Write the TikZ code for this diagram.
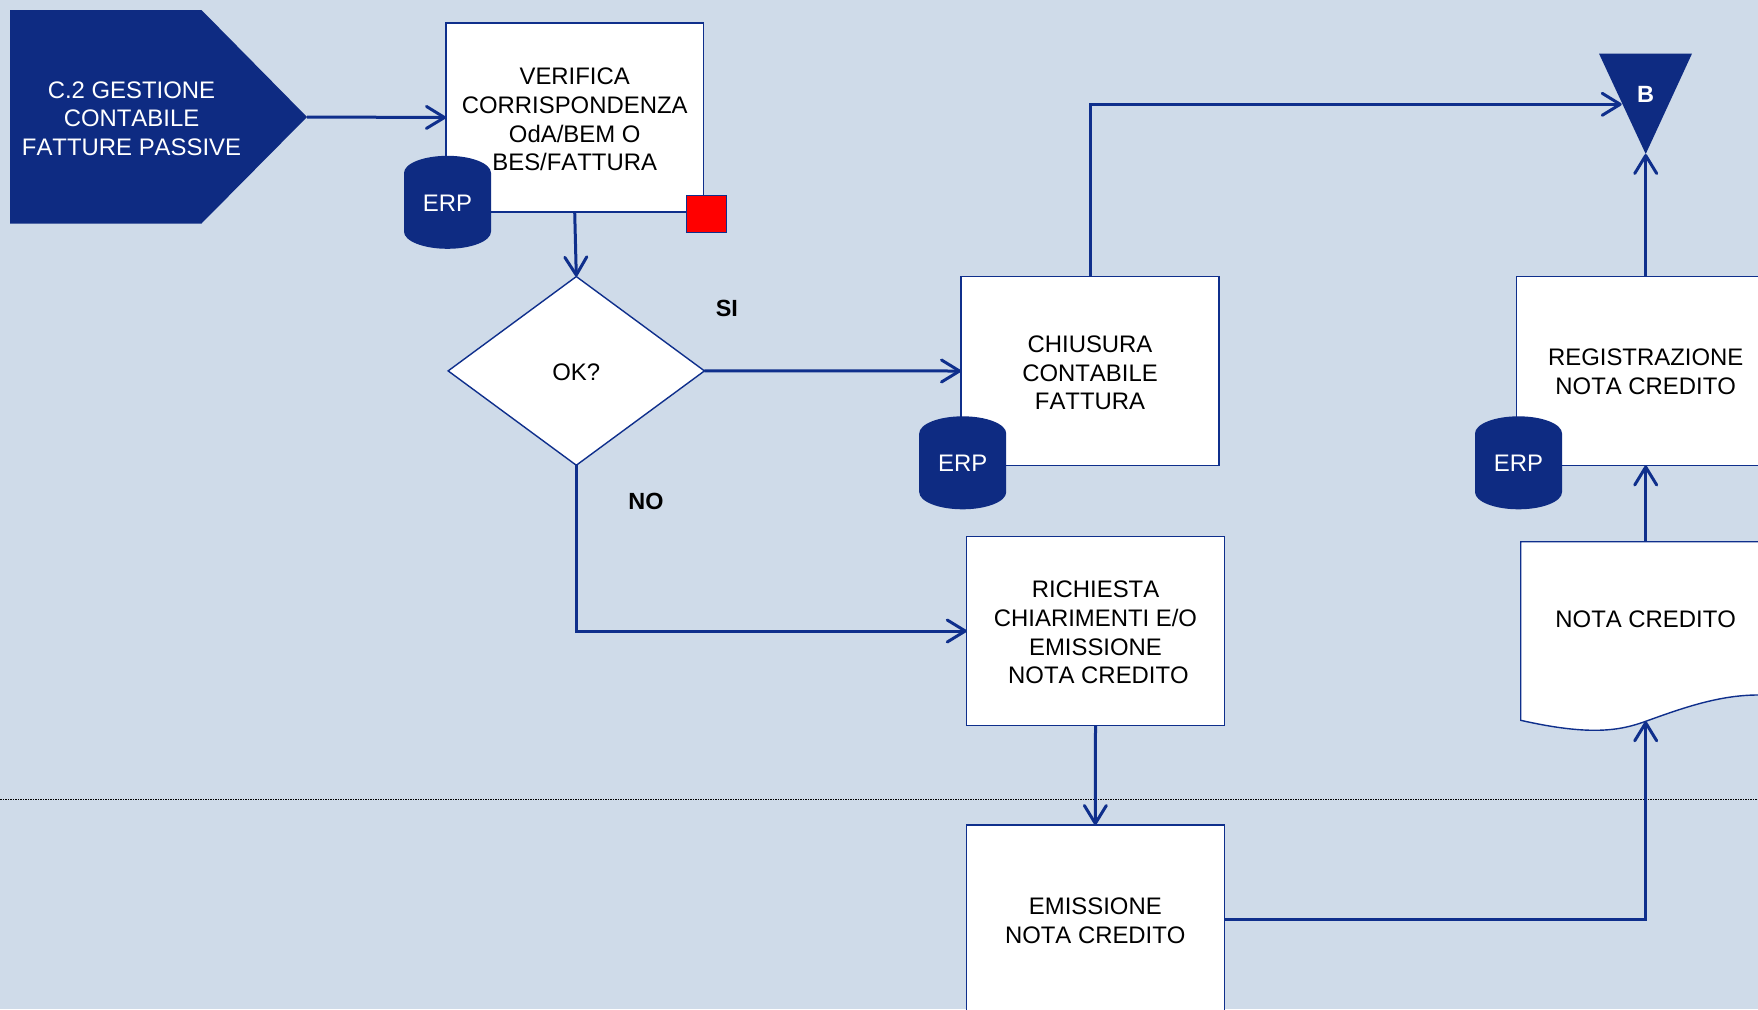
\documentclass[tikz,border=0pt]{standalone}
\usepackage{fontspec}
\setmainfont[Kerning=Off]{Liberation Sans}
\usetikzlibrary{arrows.meta,shapes.geometric,calc}
\definecolor{bgc}{RGB}{207,219,233}
\definecolor{navy}{RGB}{14,43,130}
\definecolor{linec}{RGB}{15,47,140}
\newcommand\droptext[1]{\rule{0pt}{#1pt}}
\tikzset{
  every node/.style={inner sep=0pt,outer sep=0pt,font=\fontsize{23.9}{28.7}\selectfont,align=center,text=black},
  procbox/.style={draw=linec,fill=white,line width=1.4pt,rectangle},
  erpdb/.style={cylinder,shape border rotate=90,aspect=0.7,fill=navy,draw=none,minimum width=87pt,minimum height=93pt,text=white,font=\fontsize{23.9}{27}\selectfont},
  conn/.style={draw=linec,line width=3pt,-{Straight Barb[length=18pt,width=22pt,line width=3pt,round]}},
  yesno/.style={font=\fontsize{23.4}{27}\selectfont\bfseries},
}
\begin{document}
\begin{tikzpicture}[x=1pt,y=-1pt]
\useasboundingbox (0,0) rectangle (1758,1009);
\clip (0,0) rectangle (1758,1009);
\fill[bgc] (0,0) rectangle (1758,1009);
% separator
\coordinate (sepL) at (0,799.3);
\coordinate (sepR) at (1758,799.3);
\draw[black,line width=1pt,dash pattern=on 1.5pt off 1pt] (sepL) -- (sepR);
% start pentagon
\coordinate (ptip) at (307,117);
\fill[navy] (10,10) -- (201.5,10) -- (ptip) -- (201.5,223.5) -- (10,223.5) -- cycle;
\node[text=white] (title) at (131.5,118.5) {C.2 GESTIONE\\CONTABILE\\FATTURE PASSIVE};
% boxes
\node[procbox,minimum width=257.5pt,minimum height=189pt] (verifica) at (574.7,117.5) {\droptext{20.6}VERIFICA\\CORRISPONDENZA\\OdA/BEM O\\BES/FATTURA};
\node[procbox,diamond,aspect=1.36,minimum width=256.3pt,minimum height=188.7pt] (ok) at (576.3,370.9) {\droptext{19.4}OK?};
\node[procbox,minimum width=258pt,minimum height=189pt] (chiusura) at (1090,371) {\droptext{20.6}CHIUSURA\\CONTABILE\\FATTURA};
\node[procbox,minimum width=257.5pt,minimum height=189pt] (richiesta) at (1095.5,631) {\droptext{20.0}RICHIESTA\\CHIARIMENTI E/O\\EMISSIONE\\\hspace*{6pt}NOTA CREDITO};
\node[procbox,minimum width=258pt,minimum height=189pt] (emissione) at (1095.3,919.5) {\droptext{19.6}EMISSIONE\\NOTA CREDITO};
\node[procbox,minimum width=258pt,minimum height=189pt] (registra) at (1645.7,371) {\droptext{18.6}REGISTRAZIONE\\NOTA CREDITO};
% document
\coordinate (docN) at (1645.7,541.7);
\coordinate (docS) at (1645.7,721.3);
\draw[linec,fill=white,line width=1.4pt] (1520.7,541.7) -- (1800,541.7) -- (1800,695) -- (1758,695)
  .. controls (1718,695) and (1680,709) .. (docS)
  .. controls (1620,730.7) and (1590,736) .. (1520.7,720.3) -- cycle;
\node (nota) at (1645.7,619) {NOTA CREDITO};
% triangle
\coordinate (triApex) at (1645.7,154);
\coordinate (triL) at (1621.7,104.3);
\fill[navy] (1599,53.6) -- (1692,53.6) -- (triApex) -- cycle;
\node[text=white,font=\fontsize{23.5}{26}\selectfont\bfseries] (trilabel) at (1645.7,94.6) {B};
% erp
\node[erpdb] (erpA) at (447.5,211) {\raisebox{16pt}{ERP}};
\node[erpdb] (erpB) at (962.7,471.5) {\raisebox{16pt}{ERP}};
\node[erpdb] (erpC) at (1518.5,471.5) {\raisebox{17pt}{ERP}};
% red marker
\node[draw=linec,fill=red,line width=1.2pt,minimum width=40pt,minimum height=37.5pt] (marker) at (706.5,214) {};
% labels
\node[yesno] (si) at (726.8,308.5) {SI};
\node[yesno] (no) at (646,501) {NO};
% connectors
\draw[conn] (ptip) -- (verifica.west);
\draw[conn] (verifica.south) -- (ok.north);
\draw[conn] (ok.east) -- (chiusura.west);
\draw[conn] (ok.south) |- (richiesta.west);
\draw[conn] (chiusura.north) |- (triL);
\draw[conn] (registra.north) -- (triApex);
\draw[conn] (docN) -- (registra.south);
\draw[conn] (richiesta.south) -- (emissione.north);
\draw[conn] (emissione.east) -| (docS);
\end{tikzpicture}
\end{document}
